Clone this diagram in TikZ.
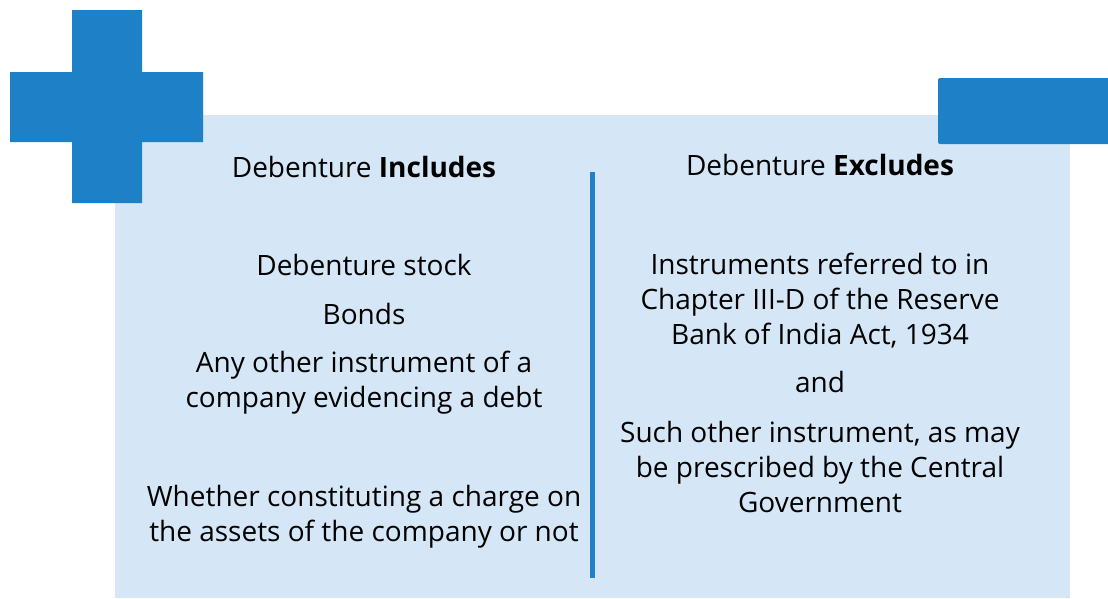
\documentclass[tikz,border=0pt]{standalone}
\usepackage{fontspec}
\setmainfont{Open Sans}
\definecolor{dblue}{RGB}{30,129,199}
\definecolor{lblue}{RGB}{213,231,246}
\newcommand{\mylines}[1]{\begin{tabular}[t]{@{}c@{}}#1\end{tabular}}
\begin{document}
\begin{tikzpicture}[x=1pt,y=-1pt,
  txt/.style={font=\fontsize{28}{35}\selectfont, inner sep=0pt, anchor=base, text=black}]
\useasboundingbox (0,0) rectangle (1108,598);
\fill[lblue] (115,115) rectangle (1070,598);
\fill[dblue] (72,10) -- (142,10) -- (142,72) -- (203,72) -- (203,142) -- (142,142) -- (142,203) -- (72,203) -- (72,142) -- (10,142) -- (10,72) -- (72,72) -- cycle;
\fill[dblue, rounded corners=2pt] (938,78) rectangle (1114,144);
\coordinate (divtop) at (592.5,172);
\coordinate (divbot) at (592.5,578);
\draw[dblue, line width=5pt] (divtop) -- (divbot);
\node[txt] (inchead) at (364,177) {Debenture \textbf{Includes}};
\node[txt] (exhead) at (820,175) {Debenture \textbf{Excludes}};
\node[txt] (i1) at (364,275) {Debenture stock};
\node[txt] (i2) at (364,324) {Bonds};
\node[txt] (i3) at (364,372) {\mylines{Any other instrument of a\\company evidencing a debt}};
\node[txt] (i4) at (364,506) {\mylines{Whether constituting a charge on\\the assets of the company or not}};
\node[txt] (e1) at (820,274) {\mylines{Instruments referred to in\\Chapter III-D of the Reserve\\Bank of India Act, 1934}};
\node[txt] (e2) at (820,392) {and};
\node[txt] (e3) at (820,442) {\mylines{Such other instrument, as may\\be prescribed by the Central\\Government}};
\end{tikzpicture}
\end{document}
